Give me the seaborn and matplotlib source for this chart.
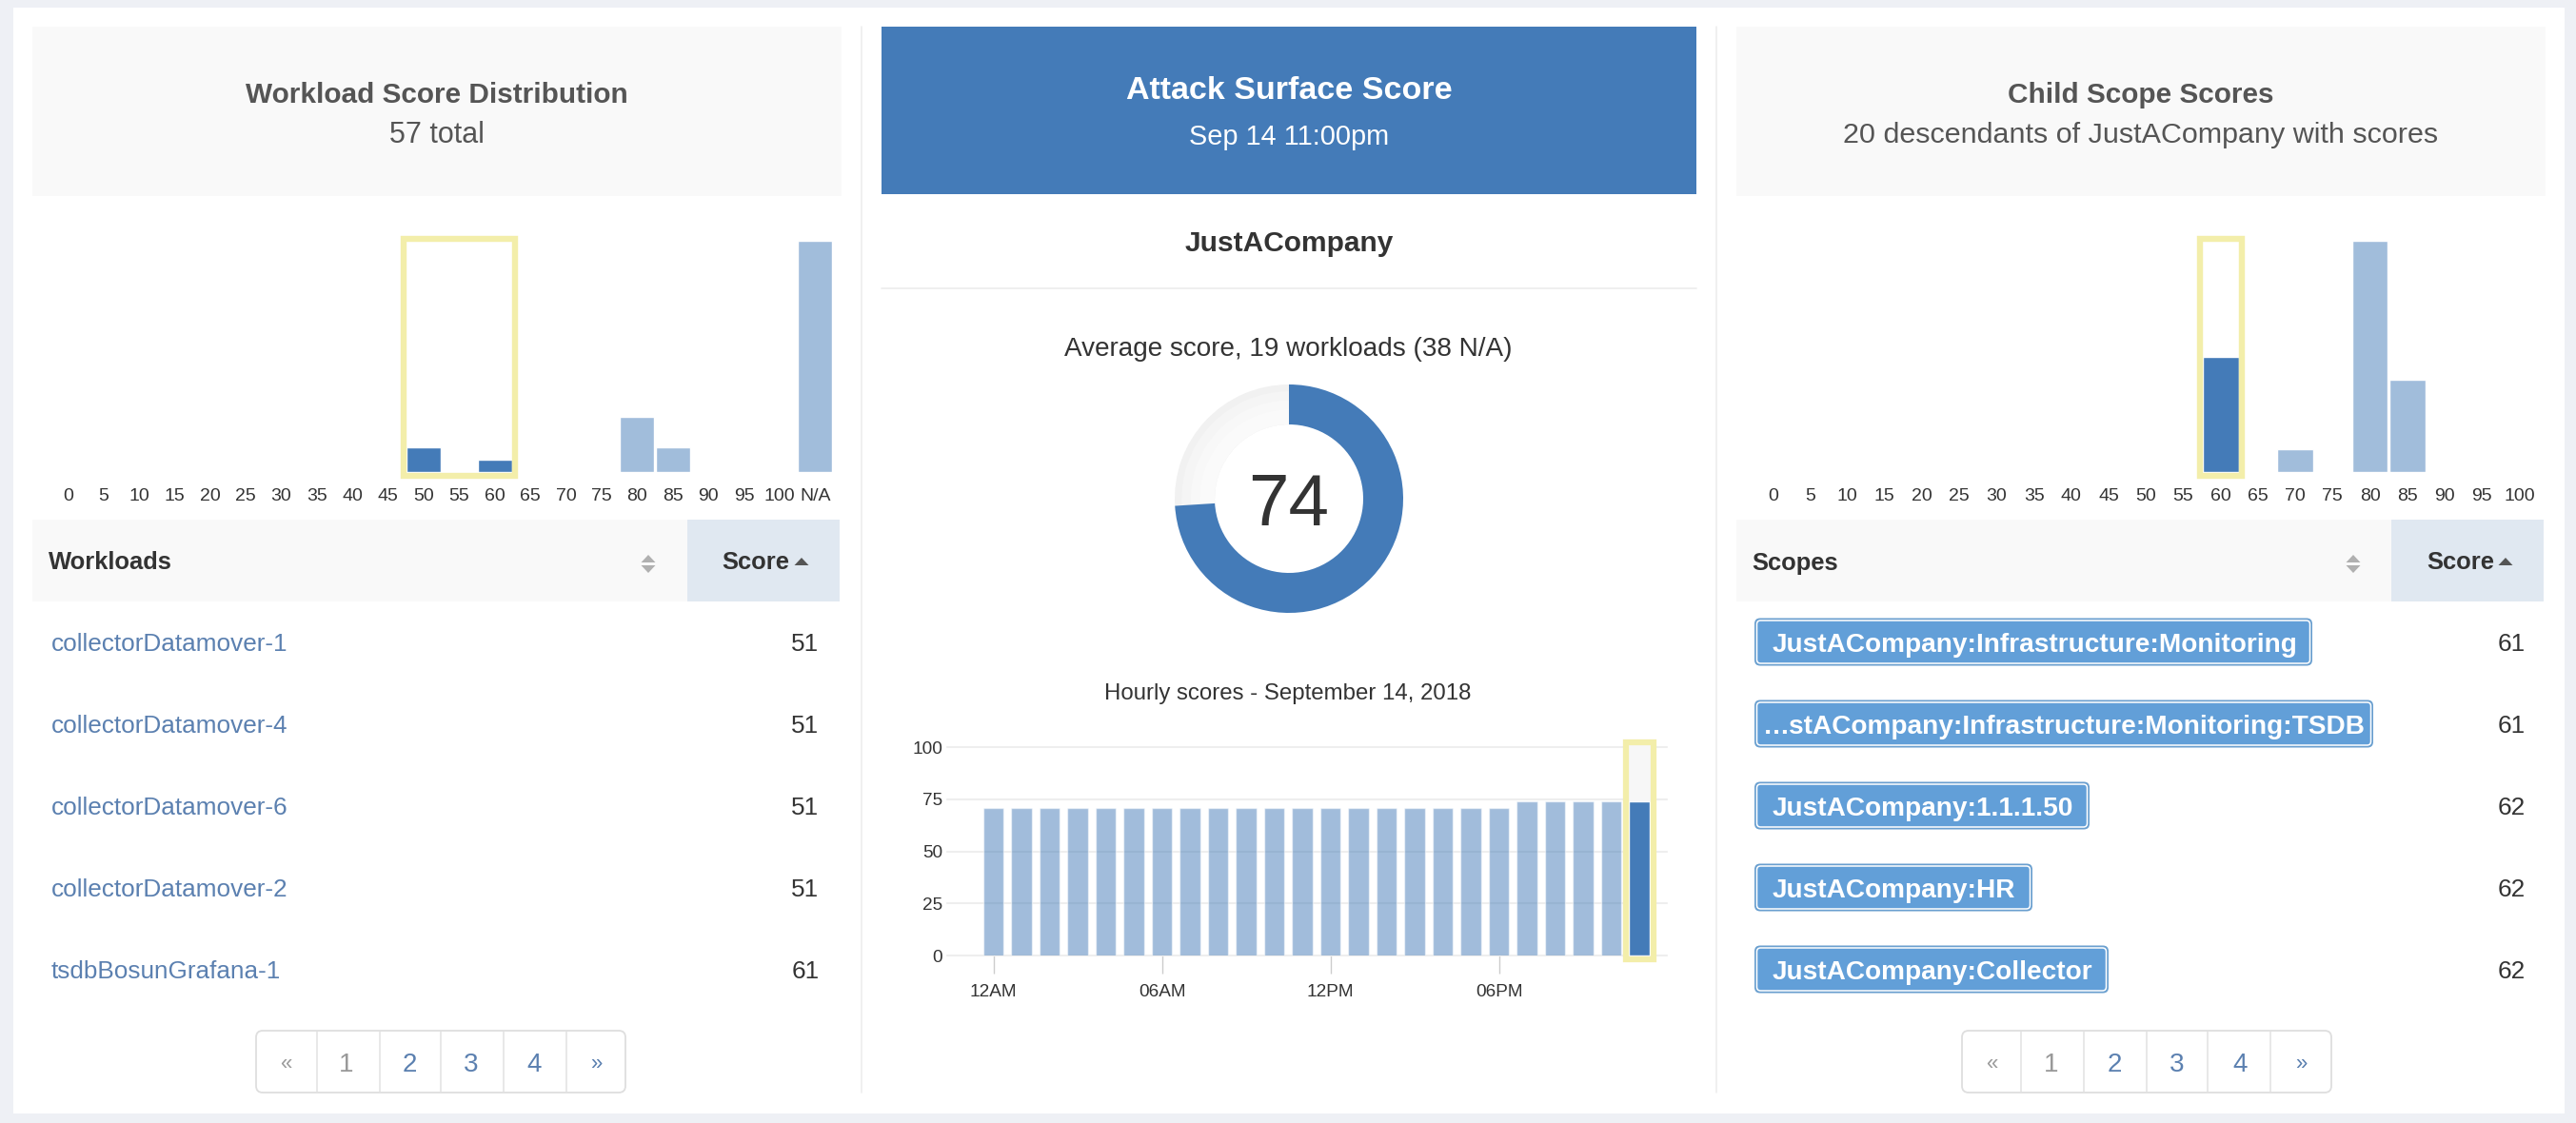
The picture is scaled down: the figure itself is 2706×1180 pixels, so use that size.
import matplotlib
matplotlib.use('Agg')
import matplotlib.pyplot as plt
from matplotlib.patches import FancyBboxPatch, Polygon, Rectangle
import pandas as pd
import seaborn as sns

W, H = 2706, 1180

BLUE = '#447bb8'
LIGHT = '#a1bddb'
YELLOW = '#f3eeaa'
LINK = '#5b80b0'

# workload histogram
workload_bins = [str(b) for b in range(0, 101, 5)] + ['N/A']
workload_counts = [0, 0, 0, 0, 0, 0, 0, 0, 0, 0, 4, 0, 2, 0, 0, 0, 9, 4, 0, 0, 0, 38]
workload_selected = ['50', '55', '60']

# child scope histogram
scope_bins = [str(b) for b in range(0, 101, 5)]
scope_counts = [0, 0, 0, 0, 0, 0, 0, 0, 0, 0, 0, 0, 5, 0, 1, 0, 10, 4, 0, 0, 0]
scope_selected = ['60']

# hourly scores
hours = list(range(24))
hourly_scores = [71] * 19 + [74] * 5
hour_ticks = [0, 6, 12, 18]
hour_labels = ['12AM', '06AM', '12PM', '06PM']
selected_hour = 23
hour_yticks = [0, 25, 50, 75, 100]

# donut
average_score = 74

# tables
workload_names = ['collectorDatamover-1', 'collectorDatamover-4', 'collectorDatamover-6',
                  'collectorDatamover-2', 'tsdbBosunGrafana-1']
workload_scores = [51, 51, 51, 51, 61]
scope_names = ['JustACompany:Infrastructure:Monitoring', '…stACompany:Infrastructure:Monitoring:TSDB',
               'JustACompany:1.1.1.50', 'JustACompany:HR', 'JustACompany:Collector']
scope_scores = [61, 61, 62, 62, 62]
page_labels = ['«', '1', '2', '3', '4', '»']

sns.set_theme(style='white')
plt.rcParams['font.family'] = ['Liberation Sans', 'DejaVu Sans']

fig = plt.figure(figsize=(W / 100, H / 100), dpi=100, facecolor='#eef0f5')

# full size axes in pixels for the page furniture
bg = fig.add_axes([0, 0, 1, 1], zorder=0)
bg.set_xlim(0, W)
bg.set_ylim(H, 0)
bg.axis('off')


def px_axes(x0, y0, x1, y1):
    ax = fig.add_axes([x0 / W, 1 - y1 / H, (x1 - x0) / W, (y1 - y0) / H], zorder=2)
    ax.patch.set_alpha(0)
    return ax


def box(x0, y0, x1, y1, color):
    bg.add_patch(Rectangle((x0, y0), x1 - x0, y1 - y0, facecolor=color, edgecolor='none'))


def label(x, y, s, size, color='#333333', weight='normal', ha='center'):
    bg.text(x, y, s, fontsize=size, color=color, fontweight=weight, ha=ha, va='center_baseline')


def hist_panel(bins, counts, selected, x0, x1, box_pad):
    df = pd.DataFrame({'bin': bins, 'count': counts, 'sel': [b in selected for b in bins]})
    ax = px_axes(x0, 253, x1, 496)
    sns.barplot(data=df, x='bin', y='count', hue='sel', order=bins, palette={False: LIGHT, True: BLUE},
                dodge=False, width=0.96, saturation=1, legend=False, ax=ax)
    ax.set_xlim(-0.5, len(bins) - 0.5)
    ax.set_ylim(0, max(counts))
    ax.set(xlabel='', ylabel='', yticks=[])
    ax.tick_params(axis='x', length=0, pad=12, labelsize=14, labelcolor='#333333')
    sns.despine(ax=ax, left=True, bottom=True)
    # yellow selection frame
    first = bins.index(selected[0])
    last = bins.index(selected[-1])
    frame = Rectangle((first - box_pad, -0.0165 * max(counts)), last - first + 2 * box_pad, 1.0248 * max(counts),
                      facecolor='none', edgecolor=YELLOW, lw=4.6, clip_on=False, zorder=4)
    ax.add_patch(frame)
    return ax


def sort_icons(x):
    bg.add_patch(Polygon([(x - 7.5, 591), (x + 7.5, 591), (x, 583)], facecolor='#b0b0b0', edgecolor='none'))
    bg.add_patch(Polygon([(x - 7.5, 594), (x + 7.5, 594), (x, 602)], facecolor='#b0b0b0', edgecolor='none'))


def table_head(x0, x1, split, name, name_x, score_x, tri_x, sort_x):
    box(x0, 546, x1, 632, '#f9f9f9')
    box(split, 546, x1, 632, '#e0e8f1')
    label(name_x, 589, name, 18.4, weight='bold', ha='left')
    label(score_x, 589, 'Score', 18.4, weight='bold', ha='left')
    bg.add_patch(Polygon([(tri_x - 7.5, 594), (tri_x + 7.5, 594), (tri_x, 586)], facecolor='#555555', edgecolor='none'))
    sort_icons(sort_x)


def pager(x0, x1, dividers, centers):
    bg.add_patch(FancyBboxPatch((x0, 1083), x1 - x0, 65, boxstyle='round,pad=0,rounding_size=7',
                                facecolor='white', edgecolor='#dedede', lw=1.3))
    for d in dividers:
        bg.plot([d, d], [1084, 1147], color='#e2e2e2', lw=1.1)
    for c, s in zip(centers, page_labels):
        color = '#999999' if s in ('«', '1') else LINK
        label(c, 1116, s, 20 if s.isdigit() else 16, color=color)


# page
box(14, 8, 2694, 1170, 'white')
for x in (905, 1803):
    bg.plot([x, x], [28, 1148], color='#ececec', lw=1.1)

# headers
box(34, 28, 884, 206, '#f9f9f9')
box(926, 28, 1782, 204, BLUE)
box(1824, 28, 2674, 206, '#f9f9f9')
label(459, 96.5, 'Workload Score Distribution', 21.4, color='#555555', weight='bold')
label(459, 138.5, '57 total', 22, color='#555555')
label(1354, 91.5, 'Attack Surface Score', 24.5, color='white', weight='bold')
label(1354, 140.5, 'Sep 14 11:00pm', 20.8, color='white')
label(2249, 96.5, 'Child Scope Scores', 21.4, color='#555555', weight='bold')
label(2249, 138.5, '20 descendants of JustACompany with scores', 21.95, color='#555555')

# histograms
hist_panel(workload_bins, workload_counts, workload_selected, 52.5, 875, 0.56)
hist_panel(scope_bins, scope_counts, scope_selected, 1842.6, 2666, 0.56)

# middle column
label(1354, 252.5, 'JustACompany', 21.5, weight='bold')
bg.plot([926, 1782], [303, 303], color='#eeeeee', lw=1.3)
label(1353, 364, 'Average score, 19 workloads (38 N/A)', 20.1)

donut = px_axes(1234, 404, 1474, 644)
# the empty part of the ring fades towards its inner edge
for radius, shade in zip([1.0, 0.94, 0.86, 0.78], ['#f1f1f1', '#f5f5f5', '#f8f8f8', '#fafafa']):
    donut.pie([average_score, 100 - average_score], startangle=90, counterclock=False, radius=radius,
              colors=['none', shade], wedgeprops={'width': radius - 0.65, 'linewidth': 0})
donut.pie([average_score, 100 - average_score], startangle=90, counterclock=False, radius=1,
          colors=[BLUE, 'none'], wedgeprops={'width': 0.35, 'linewidth': 0})
donut.set_xlim(-1, 1)
donut.set_ylim(-1, 1)
donut.text(0, -0.075, str(average_score), fontsize=55, color='#333333', ha='center', va='center')

label(1353, 726, 'Hourly scores - September 14, 2018', 17.3)

hourly = px_axes(995, 785, 1751, 1004.3)
hour_df = pd.DataFrame({'hour': hours, 'score': hourly_scores, 'sel': [h == selected_hour for h in hours]})
sns.barplot(data=hour_df, x='hour', y='score', hue='sel', palette={False: BLUE, True: BLUE},
            dodge=False, width=0.72, saturation=1, legend=False, ax=hourly)
for bar, h in zip(sorted(hourly.patches, key=lambda p: p.get_x()), hours):
    if h != selected_hour:
        bar.set_alpha(0.5)
hourly.set_xlim(-1.647, 23.98)
hourly.set_ylim(0, 100)
hourly.set(xlabel='', ylabel='', yticks=hour_yticks)
hourly.set_xticks(hour_ticks, hour_labels)
hourly.set_axisbelow(True)
hourly.grid(axis='y', color='#eeeeee', lw=1.5)
hourly.grid(axis='x', visible=False)
for line in hourly.get_ygridlines():
    line.set_clip_on(False)
hourly.tick_params(axis='y', length=0, pad=3.5, labelsize=13.7, labelcolor='#333333')
hourly.tick_params(axis='x', length=13.7, width=1, color='#cccccc', pad=7.5, labelsize=13.7, labelcolor='#333333',
                   bottom=True)
sns.despine(ax=hourly, left=True, bottom=True)
hourly.add_patch(Rectangle((selected_hour - 0.49, -1.7), 0.98, 104, facecolor='#f7f7f7', edgecolor='none',
                           clip_on=False, zorder=0.8))
hourly.add_patch(Rectangle((selected_hour - 0.49, -1.7), 0.98, 104, facecolor='none', edgecolor=YELLOW, lw=4.5,
                           clip_on=False, zorder=4))

# left table
table_head(34, 882, 722, 'Workloads', 50.5, 758, 842, 681)
row_y = [675, 761, 847, 933, 1019]
for y, name, score in zip(row_y, workload_names, workload_scores):
    label(54, y, name, 18.85, color=LINK, ha='left')
    label(860.5, y, str(score), 18.85, ha='right')
pager(269, 657, [333, 399, 463, 529, 595], [300, 364, 430, 495, 561, 626])

# right table
table_head(1824, 2672, 2512, 'Scopes', 1840, 2549, 2632, 2472)
pill_right = [2429, 2493, 2195, 2135, 2215]
for i, (y, name, score) in enumerate(zip(row_y, scope_names, scope_scores)):
    x1 = pill_right[i]
    bg.add_patch(FancyBboxPatch((1843, y - 25.5), x1 - 1843, 50, boxstyle='round,pad=0,rounding_size=6',
                                facecolor='#6a9fcf', edgecolor='none'))
    bg.add_patch(FancyBboxPatch((1845.5, y - 23), x1 - 1848, 45, boxstyle='round,pad=0,rounding_size=4',
                                facecolor='#629fd8', edgecolor='white', lw=1.1))
    label(1852 if name.startswith('…') else 1862, y, name, 20.2, color='white', weight='bold', ha='left')
    label(2653, y, str(score), 18.85, ha='right')
pager(2061, 2449, [2122.5, 2189, 2255, 2319, 2385], [2092, 2155, 2221, 2287, 2353, 2417])

fig.savefig('out.png', dpi=100, facecolor=fig.get_facecolor())
